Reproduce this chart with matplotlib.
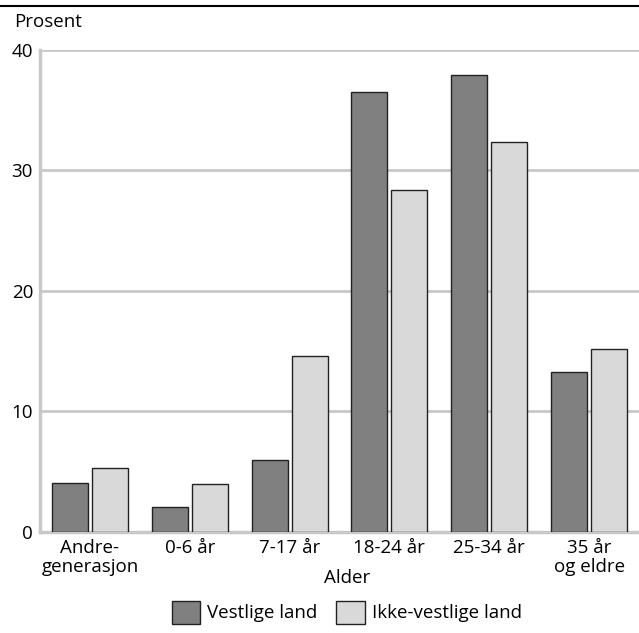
import numpy as np
import matplotlib.pyplot as plt
from matplotlib.patches import Patch
from matplotlib.lines import Line2D

plt.rcParams['font.family'] = ['Open Sans', 'DejaVu Sans']

# Data
categories = ['Andre-\ngenerasjon', '0-6 år', '7-17 år', '18-24 år', '25-34 år', '35 år\nog eldre']
vestlige = [4.1, 2.1, 6.0, 36.5, 37.9, 13.3]
ikke_vestlige = [5.3, 4.0, 14.6, 28.4, 32.4, 15.2]
series_names = ['Vestlige land', 'Ikke-vestlige land']
colors = ['#808080', '#d9d9d9']

fs = 13.5

fig = plt.figure(figsize=(6.39, 6.33), dpi=100)
ax = fig.add_axes([0.0626, 0.1596, 0.9374, 0.7614])

x = np.arange(len(categories))
w = 0.36
ax.bar(x - 0.2, vestlige, w, color=colors[0], edgecolor='#222222', linewidth=1, zorder=3)
ax.bar(x + 0.2, ikke_vestlige, w, color=colors[1], edgecolor='#222222', linewidth=1, zorder=3)

ax.set_xlim(-0.5, len(categories) - 0.5)
ax.set_ylim(0, 40)
ax.set_yticks([0, 10, 20, 30, 40])
ax.set_xticks(x)
ax.set_xticklabels(categories, fontsize=fs, linespacing=1.05)
ax.tick_params(axis='both', length=0, labelsize=fs)
ax.tick_params(axis='x', pad=5)
ax.tick_params(axis='y', pad=5)
ax.grid(axis='y', color='#c8c8c8', linewidth=2, zorder=0)

for s in ['top', 'right']:
    ax.spines[s].set_visible(False)
for s in ['left', 'bottom']:
    ax.spines[s].set_color('#c8c8c8')
    ax.spines[s].set_linewidth(2.5)

fig.text(0.543, 0.087, 'Alder', fontsize=fs, ha='center', va='center')
fig.text(0.022, 0.965, 'Prosent', fontsize=fs, va='center', ha='left')

# line at the top of the figure
fig.add_artist(Line2D([0, 1], [0.990, 0.990], color='black', linewidth=1.5, transform=fig.transFigure))

handles = [Patch(facecolor=c, edgecolor='#222222', linewidth=1) for c in colors]
fig.legend(handles, series_names, loc='center', bbox_to_anchor=(0.543, 0.033), ncol=2,
           frameon=False, fontsize=fs, handlelength=1.5, handleheight=1.5,
           handletextpad=0.4, columnspacing=1.0)

plt.savefig('out.png', dpi=100)
